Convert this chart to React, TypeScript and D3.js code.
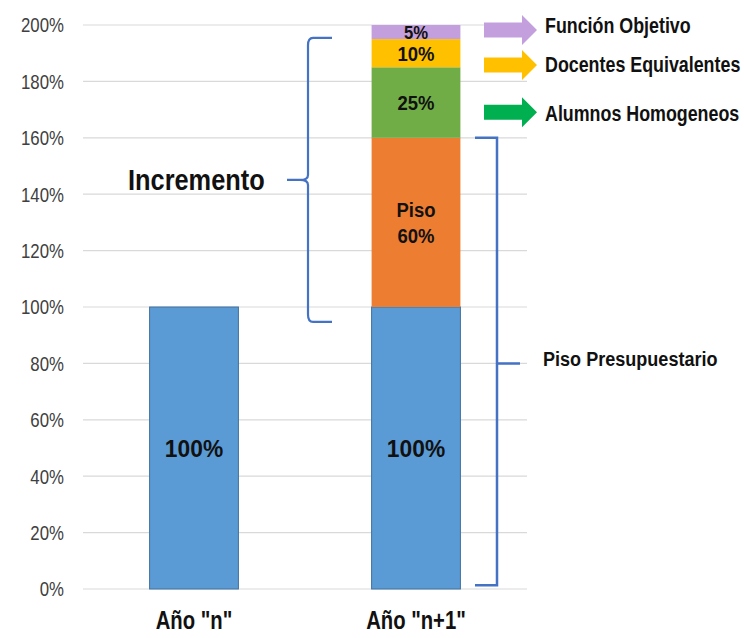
import React from "react";
import * as d3 from "d3";

const categories = ['Año "n"', 'Año "n+1"'];
const segmentNames = ["Base", "Piso", "Alumnos", "Docentes", "Funcion"];
const segmentColors = ["#5B9BD5", "#ED7D31", "#70AD47", "#FFC000", "#C39FDD"];
const seriesN = [100, 0, 0, 0, 0];
const seriesN1 = [100, 60, 25, 10, 5];
const segmentLabels = [["100%"], ["Piso", "60%"], ["25%"], ["10%"], ["5%"]];
const yTicks = [0, 20, 40, 60, 80, 100, 120, 140, 160, 180, 200];
const legendNames = ["Función Objetivo", "Docentes Equivalentes", "Alumnos Homogeneos"];
const legendColors = ["#C39FDD", "#FFC000", "#00B050"];
const legendArrowLevels = [198.2, 185.8, 169.1];
const legendTextLevels = [199.8, 186.0, 168.6];
const incrementRange = [94.7, 195.4];
const pisoRange = [1.3, 160];
const pisoMarker = 80;

const W = 744;
const H = 638;
const FONT = "'Liberation Sans', Arial, sans-serif";

type NTProps = {
  x: number;
  y: number;
  fs: number;
  sx: number;
  anchor?: "start" | "middle" | "end";
  bold?: boolean;
  fill?: string;
  children: React.ReactNode;
};

// Text centred vertically on y (cap-height middle), horizontally condensed by sx
function NText({ x, y, fs, sx, anchor = "start", bold = true, fill = "#111", children }: NTProps) {
  return (
    <g transform={`translate(${x},${y}) scale(${sx},1)`}>
      <text
        x={0}
        y={0.358 * fs}
        fontSize={fs}
        fontWeight={bold ? "bold" : "normal"}
        textAnchor={anchor}
        fill={fill}
        fontFamily={FONT}
      >
        {children}
      </text>
    </g>
  );
}

export default function App() {
  const x = d3.scaleBand().domain(categories).range([83, 527]).paddingInner(0.6).paddingOuter(0.3);
  const y = d3.scaleLinear().domain([0, 200]).range([589, 25]);
  const data = [seriesN, seriesN1];
  const stackRows = categories.map((c, i) => {
    const row: any = { cat: c };
    segmentNames.forEach((s, j) => (row[s] = data[i][j]));
    return row;
  });
  const stacked = d3.stack().keys(segmentNames)(stackRows as any);

  // Increment brace
  const bTop = y(incrementRange[1]);
  const bBot = y(incrementRange[0]);
  const bMid = (bTop + bBot) / 2;
  const bx = 308;
  const r = 5;
  const bracePath = `M ${bx + 24} ${bTop} L ${bx + r} ${bTop} Q ${bx} ${bTop} ${bx} ${bTop + r * 1.5} L ${bx} ${bMid - r} Q ${bx} ${bMid} ${bx - r * 1.6} ${bMid} L ${bx - 21} ${bMid} M ${bx - r * 1.6} ${bMid} Q ${bx} ${bMid} ${bx} ${bMid + r} L ${bx} ${bBot - r * 1.5} Q ${bx} ${bBot} ${bx + r} ${bBot} L ${bx + 24} ${bBot}`;

  // Piso bracket
  const pTop = y(pisoRange[1]);
  const pBot = y(pisoRange[0]);
  const pMid = y(pisoMarker);
  const px = 497;

  const arrow = (cy: number) => {
    const x0 = 484, x1 = 522, x2 = 537;
    return `M ${x0} ${cy - 7.5} L ${x1} ${cy - 7.5} L ${x1} ${cy - 15} L ${x2} ${cy} L ${x1} ${cy + 15} L ${x1} ${cy + 7.5} L ${x0} ${cy + 7.5} Z`;
  };

  return (
    <svg width={W} height={H} style={{ display: "block", position: "absolute", left: 0, top: 0 }} fontFamily={FONT}>
      <rect width={W} height={H} fill="#fff" />
      {yTicks.map((t) => (
        <g key={t}>
          <line x1={83} x2={527} y1={y(t)} y2={y(t)} stroke="#D9D9D9" strokeWidth={1.2} />
          <NText x={64} y={y(t)} fs={20.5} sx={0.82} anchor="end" bold={false} fill="#404040">
            {t}%
          </NText>
        </g>
      ))}
      {stacked.map((layer, j) =>
        layer.map((d, i) => {
          if (d[1] - d[0] <= 0) return null;
          return (
            <rect
              key={`${j}-${i}`}
              x={x(categories[i])}
              width={x.bandwidth()}
              y={y(d[1])}
              height={y(d[0]) - y(d[1])}
              fill={segmentColors[j]}
              stroke={j === 0 ? "#41719C" : "none"}
              strokeWidth={1}
            />
          );
        })
      )}
      {stacked.map((layer, j) =>
        layer.map((d, i) => {
          if (d[1] - d[0] <= 0) return null;
          const cx = (x(categories[i]) as number) + x.bandwidth() / 2;
          const cy = (y(d[0]) + y(d[1])) / 2;
          const lines = segmentLabels[j];
          const fs = j === 0 ? 24 : j === 4 ? 19 : 21;
          const sx = j === 0 ? 0.95 : 0.88;
          const lh = 26;
          return (
            <g key={`l${j}-${i}`}>
              {lines.map((ln, k) => (
                <NText key={k} x={cx} y={cy + (k - (lines.length - 1) / 2) * lh} fs={fs} sx={sx} anchor="middle">
                  {ln}
                </NText>
              ))}
            </g>
          );
        })
      )}
      {/* category labels */}
      {categories.map((c) => (
        <NText key={c} x={(x(c) as number) + x.bandwidth() / 2} y={620} fs={25} sx={0.81} anchor="middle">
          {c}
        </NText>
      ))}
      {/* increment brace */}
      <path d={bracePath} fill="none" stroke="#4472C4" strokeWidth={2.2} />
      <NText x={128} y={bMid - 1} fs={29.5} sx={0.86}>
        Incremento
      </NText>
      {/* piso bracket */}
      <path
        d={`M ${px - 22} ${pTop} L ${px} ${pTop} L ${px} ${pBot} L ${px - 22} ${pBot} M ${px} ${pMid} L ${px + 23} ${pMid}`}
        fill="none"
        stroke="#4472C4"
        strokeWidth={2.5}
      />
      <NText x={543} y={pMid - 5} fs={21} sx={0.86}>
        Piso Presupuestario
      </NText>
      {/* legend arrows */}
      {legendNames.map((n, i) => (
        <g key={n}>
          <path d={arrow(y(legendArrowLevels[i]))} fill={legendColors[i]} />
          <NText x={545} y={y(legendTextLevels[i])} fs={21.5} sx={0.83}>
            {n}
          </NText>
        </g>
      ))}
    </svg>
  );
}
